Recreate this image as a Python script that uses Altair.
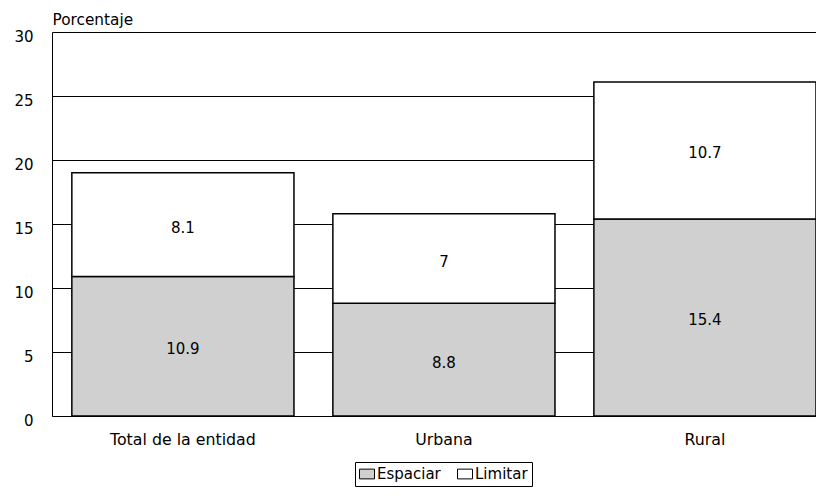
import altair as alt
import pandas as pd

categories = ["Total de la entidad", "Urbana", "Rural"]
espaciar = [10.9, 8.8, 15.4]
limitar = [8.1, 7.0, 10.7]
series = ["Espaciar", "Limitar"]
y_ticks = [0, 5, 10, 15, 20, 25, 30]

rows = []
for c, e, l in zip(categories, espaciar, limitar):
    rows.append({"cat": c, "serie": "Espaciar", "valor": e, "orden": 0,
                 "mid": e / 2, "label": f"{e:g}"})
    rows.append({"cat": c, "serie": "Limitar", "valor": l, "orden": 1,
                 "mid": e + l / 2, "label": f"{l:g}"})
df = pd.DataFrame(rows)

font = "DejaVu Sans"

x = alt.X(
    "cat:N", sort=categories, title=None,
    scale=alt.Scale(paddingInner=0.149, paddingOuter=0.038, align=1.0),
    axis=alt.Axis(labelAngle=0, labelFontSize=15.8, labelFont=font,
                  labelColor="black", labelPadding=16, ticks=False,
                  domainColor="black", domainWidth=1, grid=False),
)
y = alt.Y(
    "valor:Q", stack="zero",
    scale=alt.Scale(domain=[0, 30], nice=False),
    axis=alt.Axis(values=y_ticks, title="Porcentaje", titleAngle=0,
                  titleAlign="left", titleX=0, titleY=-8,
                  titleBaseline="alphabetic", titleFontSize=15.3,
                  titleFontWeight="normal", titleFont=font, titleColor="black",
                  labelFontSize=15, labelFont=font, labelColor="black",
                  labelPadding=19, labelOffset=4, ticks=False,
                  domainColor="black", domainWidth=1,
                  gridColor="black", gridWidth=1, gridOpacity=1),
)

bars = alt.Chart(df).mark_bar(stroke="black", strokeWidth=1.5, opacity=1).encode(
    x=x,
    y=y,
    fill=alt.Fill(
        "serie:N",
        scale=alt.Scale(domain=series, range=["#D0D0D0", "#FFFFFF"]),
        legend=alt.Legend(
            title=None, orient="none", legendX=303, legendY=430,
            direction="horizontal", strokeColor="black", padding=4,
            symbolType="M-1,-0.65H1V0.65H-1Z", symbolSize=225,
            symbolStrokeColor="black", symbolStrokeWidth=1, symbolOpacity=1,
            labelFontSize=15, labelFont=font, labelColor="black",
            labelOffset=2, columnPadding=14,
        ),
    ),
    order=alt.Order("orden:Q"),
)

text = alt.Chart(df).mark_text(font=font, fontSize=15, dy=3, color="black").encode(
    x=alt.X("cat:N", sort=categories),
    y=alt.Y("mid:Q"),
    text="label:N",
)

chart = alt.layer(bars, text).properties(
    width=764, height=384,
    padding={"left": 44, "top": 24, "right": 0, "bottom": 78},
    autosize=alt.AutoSizeParams(type="none"),
).configure_view(stroke=None)

chart.save("out.html", embed_options={"renderer": "svg", "actions": False})
